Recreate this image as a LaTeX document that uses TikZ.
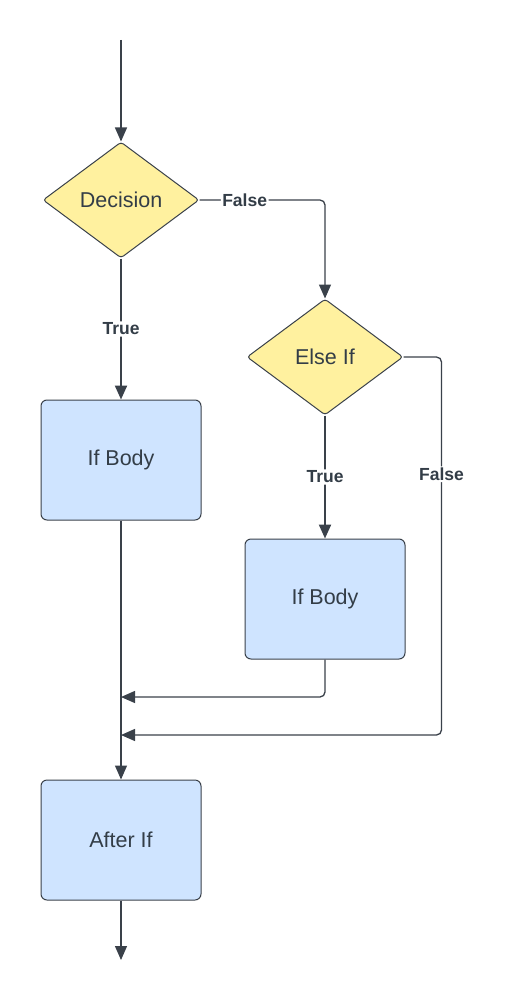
\documentclass[tikz,border=0pt]{standalone}
\usepackage{fontspec}
\setmainfont{Liberation Sans}
\usetikzlibrary{shapes.geometric,arrows.meta}
\definecolor{lineclr}{HTML}{3A414A}
\definecolor{textclr}{HTML}{333D47}
\definecolor{yellowfill}{HTML}{FFF19F}
\definecolor{bluefill}{HTML}{CFE4FF}

\begin{document}
\begin{tikzpicture}[x=1pt, y=-1pt,
every node/.style={text=textclr, font=\fontsize{21.5}{24}\selectfont},
decision/.style={diamond, draw=lineclr, fill=yellowfill, line width=1pt,
  aspect=1.34, minimum width=156pt, minimum height=116pt, inner sep=0pt,
  rounded corners=3pt},
block/.style={rectangle, draw=lineclr, fill=bluefill, line width=1pt,
  minimum width=160pt, minimum height=120pt, rounded corners=6pt},
edgelabel/.style={fill=white, inner sep=1.5pt,
  font=\bfseries\fontsize{17.5}{19}\selectfont},
line/.style={draw=lineclr, line width=1.3pt, rounded corners=5pt},
arrow/.style={line, -{Triangle[length=14pt,width=12pt]}},
truearrow/.style={arrow, line width=2.2pt}]
\useasboundingbox (0,0) rectangle (505,1000);

\coordinate (start) at (121,40);
\node[decision] (dec) at (121,200) {Decision};
\node[decision] (elif) at (325,357) {Else If};
\node[block] (ifbody) at (121,460) {If Body};
\node[block] (elifbody) at (325,599) {If Body};
\node[block] (after) at (121,840) {After If};
\coordinate (join1) at (121,697);
\coordinate (join2) at (121,735);
\coordinate (end) at (121,960);

% main branch
\draw[arrow] (start) -- (dec);
\draw[truearrow] (dec) -- node[edgelabel]{True} (ifbody);
\draw[arrow] (dec.east) -| node[edgelabel, pos=0.18]{False} (elif.north);

% else if branch
\draw[truearrow] (elif) -- node[edgelabel]{True} (elifbody);
\draw[arrow] (elif.east) -- ++(38,0) -- node[edgelabel, pos=0.31]{False} ++(0,378) -- (join2);
\draw[arrow] (elifbody.south) |- (join1);

% after
\draw[arrow] (ifbody) -- (after);
\draw[arrow] (after) -- (end);
\end{tikzpicture}
\end{document}
